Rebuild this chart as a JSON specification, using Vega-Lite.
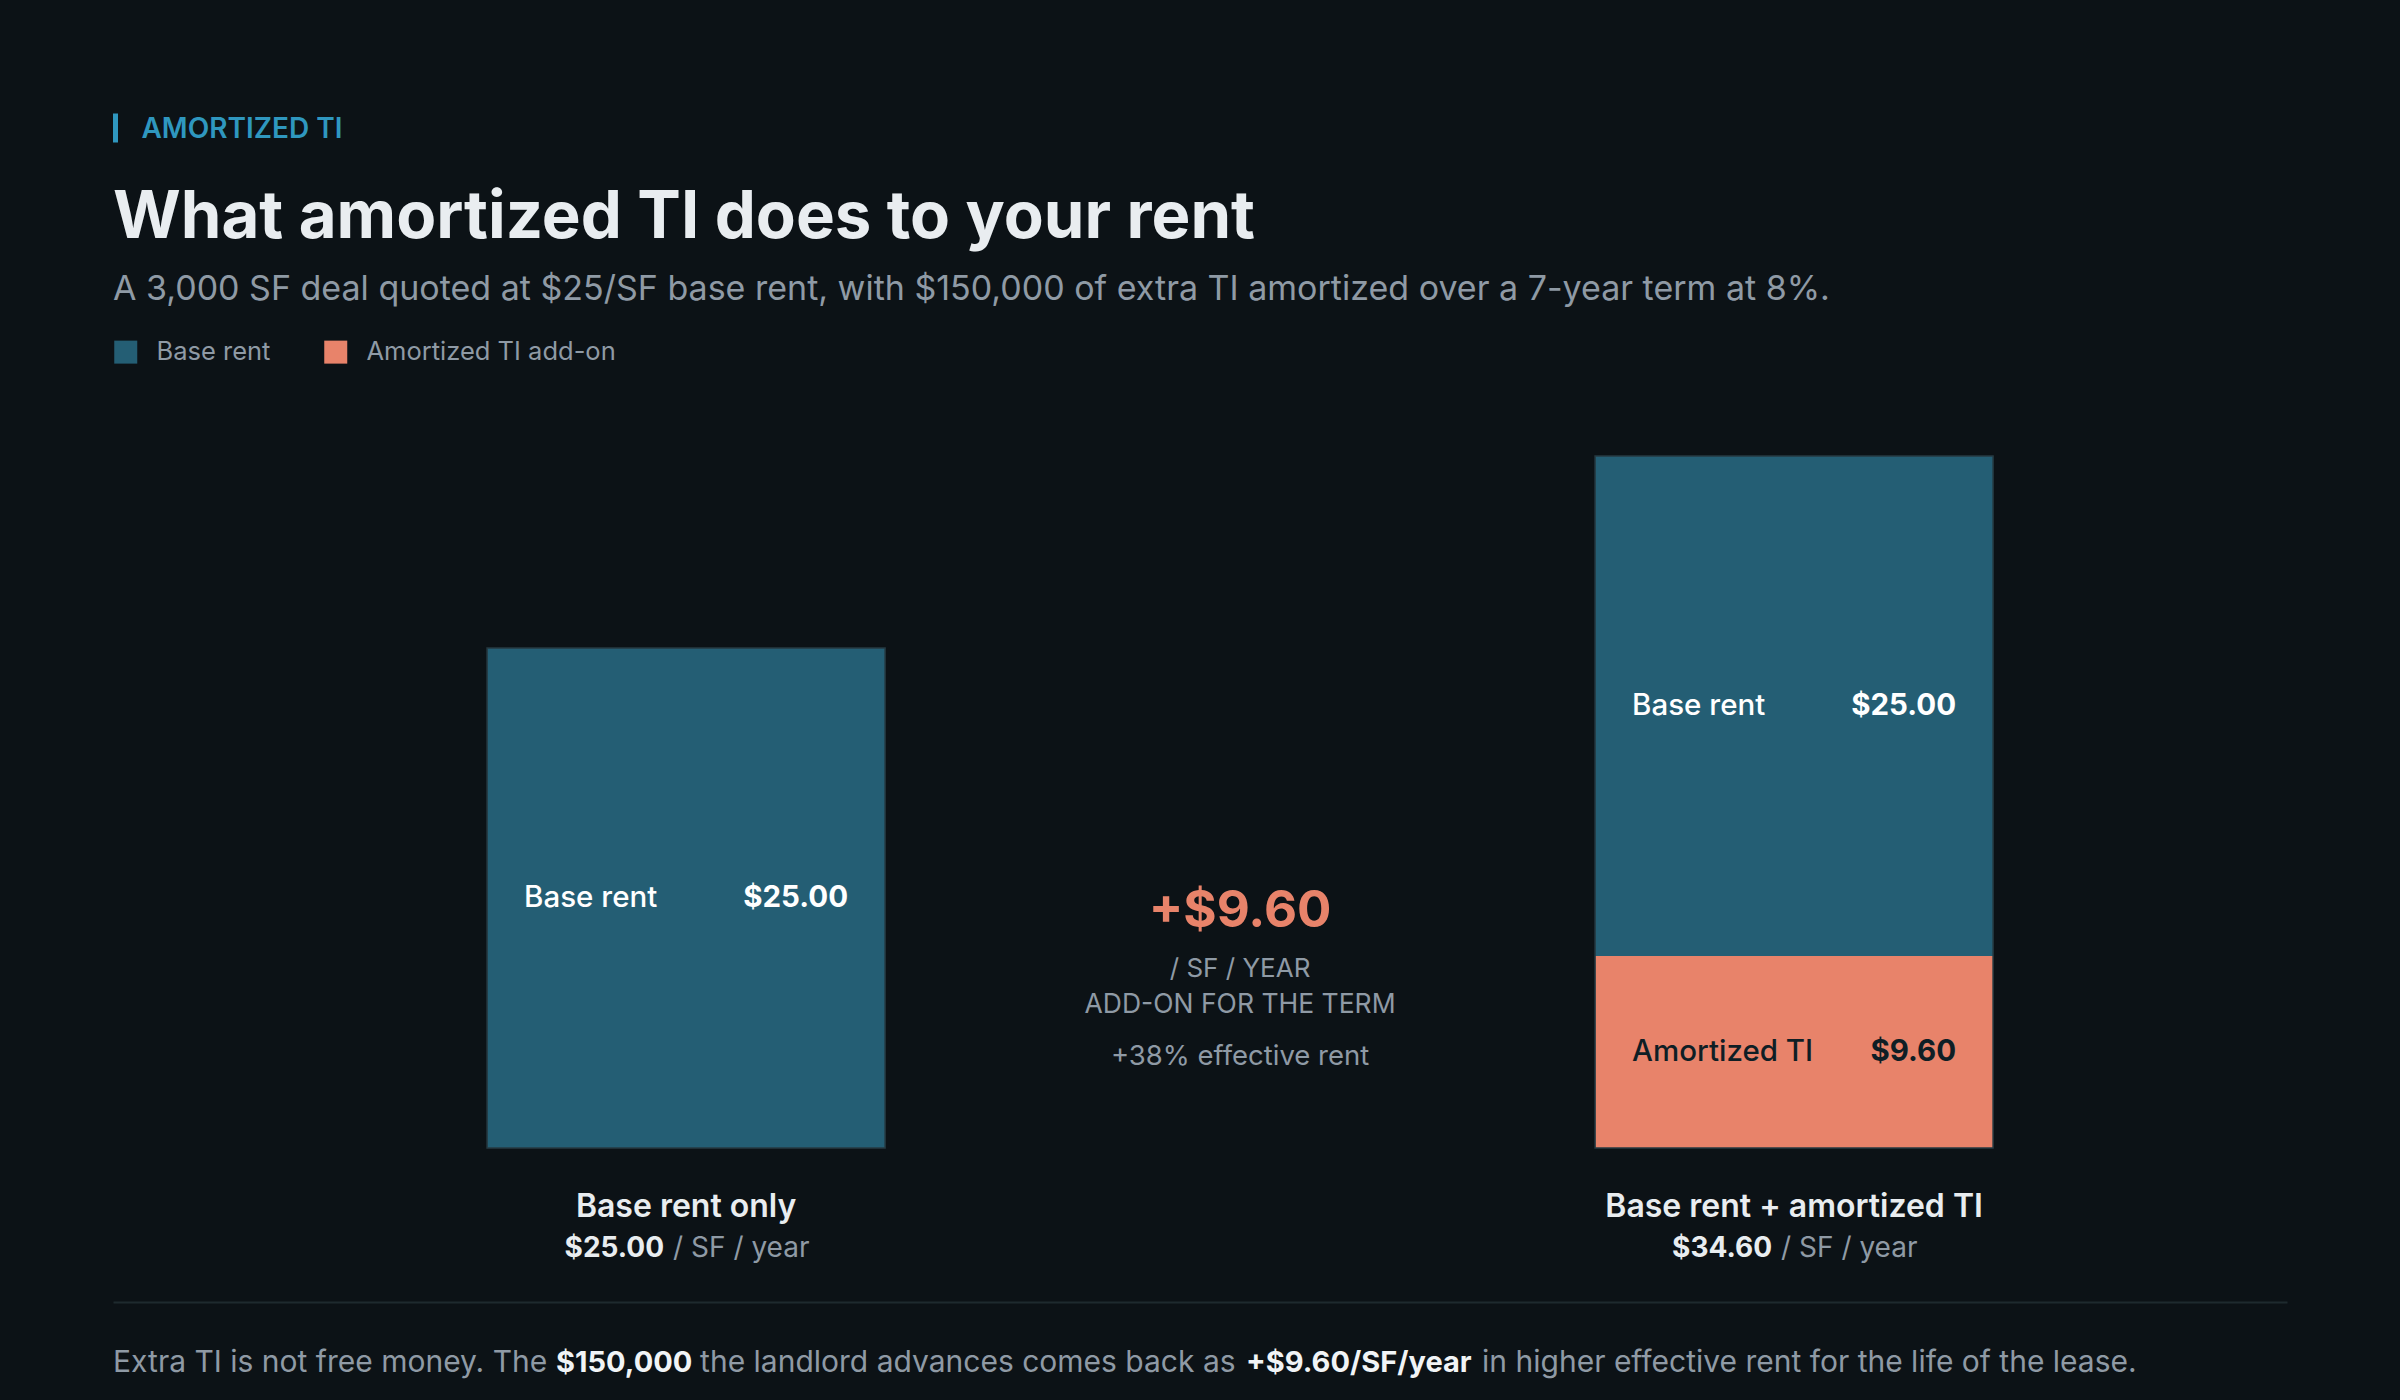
{
  "$schema": "https://vega.github.io/schema/vega-lite/v6.json",
  "width": 2174,
  "height": 874,
  "autosize": {"type": "none"},
  "padding": {"left": 113, "top": 428, "right": 113, "bottom": 98},
  "background": "#0c1216",
  "config": {
    "font": "Inter",
    "view": {"stroke": null},
    "text": {"font": "Inter"}
  },
  "title": {
    "text": "What amortized TI does to your rent",
    "subtitle": "A 3,000 SF deal quoted at $25/SF base rent, with $150,000 of extra TI amortized over a 7-year term at 8%.",
    "anchor": "start",
    "frame": "group",
    "orient": "top",
    "offset": -196,
    "font": "Inter",
    "fontSize": 65.3,
    "fontWeight": 700,
    "color": "#e9edf0",
    "subtitleFont": "Inter",
    "subtitleFontSize": 34,
    "subtitleFontWeight": 400,
    "subtitleColor": "#8f9aa5",
    "subtitlePadding": 21
  },
  "datasets": {
    "rent": [
      {"scenario": "Base rent only", "component": "Base rent", "short": "Base rent", "value": 25},
      {"scenario": "Base rent + amortized TI", "component": "Base rent", "short": "Base rent", "value": 25},
      {"scenario": "Base rent + amortized TI", "component": "Amortized TI add-on", "short": "Amortized TI", "value": 9.6}
    ],
    "delta": [
      {"scenario": "Difference", "addon": 9.6, "pct_increase": 0.384}
    ]
  },
  "layer": [
    {
      "data": {"name": "rent"},
      "transform": [
        {"stack": "value", "groupby": ["scenario"], "sort": [{"field": "component", "order": "ascending"}], "as": ["v0", "v1"]}
      ],
      "mark": {"type": "bar"},
      "encoding": {
        "x": {
          "field": "scenario",
          "type": "nominal",
          "scale": {
            "domain": ["Base rent only", "Difference", "Base rent + amortized TI"],
            "paddingInner": 0.2816,
            "paddingOuter": 0.6029,
            "align": 0.56
          },
          "axis": {
            "orient": "top",
            "values": ["Base rent only"],
            "labels": false,
            "domain": false,
            "grid": false,
            "ticks": true,
            "tickSize": 29,
            "tickWidth": 5,
            "tickColor": "#2f97bf",
            "tickOffset": -571.5,
            "offset": 286,
            "title": "AMORTIZED TI",
            "titleX": 28,
            "titleY": -5,
            "titleAngle": 0,
            "titleAlign": "left",
            "titleBaseline": "alphabetic",
            "titleFont": "Inter",
            "titleFontSize": 28,
            "titleFontWeight": 600,
            "titleColor": "#2f97bf"
          }
        },
        "y": {
          "field": "v1",
          "type": "quantitative",
          "scale": {"domain": [-7.7, 36], "nice": false, "zero": false},
          "axis": {
            "values": [-7.7],
            "labels": false,
            "ticks": false,
            "domain": false,
            "grid": true,
            "gridColor": "#1e2a2e",
            "gridWidth": 2,
            "title": null
          }
        },
        "y2": {"field": "v0"},
        "color": {
          "field": "component",
          "type": "nominal",
          "scale": {"domain": ["Base rent", "Amortized TI add-on"], "range": ["#245e74", "#e8836a"]},
          "legend": {
            "orient": "none",
            "legendX": 0,
            "legendY": -89,
            "direction": "horizontal",
            "title": null,
            "symbolType": "square",
            "symbolSize": 529,
            "symbolStrokeWidth": 0,
            "labelFont": "Inter",
            "labelFontSize": 25.5,
            "labelColor": "#8f9aa5",
            "labelOffset": 18,
            "labelLimit": 0,
            "columnPadding": 52
          }
        }
      }
    },
    {
      "data": {"name": "rent"},
      "transform": [
        {"aggregate": [{"op": "sum", "field": "value", "as": "total"}], "groupby": ["scenario"]}
      ],
      "mark": {"type": "bar", "fillOpacity": 0, "stroke": "#263a42", "strokeWidth": 1.5},
      "encoding": {
        "x": {"field": "scenario", "type": "nominal"},
        "y": {"field": "total", "type": "quantitative"},
        "y2": {"datum": 0}
      }
    },
    {
      "data": {"name": "rent"},
      "transform": [
        {"stack": "value", "groupby": ["scenario"], "sort": [{"field": "component", "order": "ascending"}], "as": ["v0", "v1"]},
        {"calculate": "(datum.v0 + datum.v1) / 2", "as": "mid"}
      ],
      "mark": {"type": "text", "align": "left", "baseline": "middle", "dx": 37, "fontSize": 29.5, "fontWeight": 500},
      "encoding": {
        "x": {"field": "scenario", "type": "nominal", "bandPosition": 0},
        "y": {"field": "mid", "type": "quantitative"},
        "text": {"field": "short"},
        "color": {"condition": {"test": "datum.component === 'Base rent'", "value": "#ffffff"}, "value": "#0f1e25"}
      }
    },
    {
      "data": {"name": "rent"},
      "transform": [
        {"stack": "value", "groupby": ["scenario"], "sort": [{"field": "component", "order": "ascending"}], "as": ["v0", "v1"]},
        {"calculate": "(datum.v0 + datum.v1) / 2", "as": "mid"}
      ],
      "mark": {"type": "text", "align": "right", "baseline": "middle", "dx": -37, "fontSize": 29.5, "fontWeight": 700},
      "encoding": {
        "x": {"field": "scenario", "type": "nominal", "bandPosition": 1},
        "y": {"field": "mid", "type": "quantitative"},
        "text": {"field": "value", "format": "$.2f"},
        "color": {"condition": {"test": "datum.component === 'Base rent'", "value": "#ffffff"}, "value": "#0f1e25"}
      }
    },
    {
      "data": {"name": "rent"},
      "transform": [
        {"aggregate": [{"op": "sum", "field": "value", "as": "total"}], "groupby": ["scenario"]}
      ],
      "mark": {"type": "text", "align": "center", "baseline": "alphabetic", "dy": 69, "fontSize": 32, "fontWeight": 600, "color": "#e9edf0"},
      "encoding": {
        "x": {"field": "scenario", "type": "nominal", "bandPosition": 0.5},
        "y": {"datum": 0, "type": "quantitative"},
        "text": {"field": "scenario"}
      }
    },
    {
      "data": {"name": "rent"},
      "transform": [
        {"aggregate": [{"op": "sum", "field": "value", "as": "total"}], "groupby": ["scenario"]}
      ],
      "mark": {"type": "text", "align": "right", "baseline": "alphabetic", "dx": -22, "dy": 109, "fontSize": 28, "fontWeight": 700, "color": "#e9edf0"},
      "encoding": {
        "x": {"field": "scenario", "type": "nominal", "bandPosition": 0.5},
        "y": {"datum": 0, "type": "quantitative"},
        "text": {"field": "total", "format": "$.2f"}
      }
    },
    {
      "data": {"name": "rent"},
      "transform": [
        {"aggregate": [{"op": "sum", "field": "value", "as": "total"}], "groupby": ["scenario"]}
      ],
      "mark": {"type": "text", "align": "left", "baseline": "alphabetic", "dx": -13, "dy": 109, "fontSize": 28, "fontWeight": 400, "color": "#8f9aa5"},
      "encoding": {
        "x": {"field": "scenario", "type": "nominal", "bandPosition": 0.5},
        "y": {"datum": 0, "type": "quantitative"},
        "text": {"value": "/ SF / year"}
      }
    },
    {
      "data": {"name": "delta"},
      "mark": {"type": "text", "align": "center", "baseline": "alphabetic", "dy": -29, "fontSize": 51, "fontWeight": 700, "color": "#e8836a"},
      "encoding": {
        "x": {"field": "scenario", "type": "nominal", "bandPosition": 0.5},
        "y": {"field": "addon", "type": "quantitative"},
        "text": {"field": "addon", "format": "+$.2f"}
      }
    },
    {
      "data": {"name": "delta"},
      "mark": {"type": "text", "align": "center", "baseline": "alphabetic", "dy": 21, "fontSize": 26, "fontWeight": 400, "color": "#8f9aa5"},
      "encoding": {
        "x": {"field": "scenario", "type": "nominal", "bandPosition": 0.5},
        "y": {"field": "addon", "type": "quantitative"},
        "text": {"value": "/ SF / YEAR"}
      }
    },
    {
      "data": {"name": "delta"},
      "mark": {"type": "text", "align": "center", "baseline": "alphabetic", "dy": 57, "fontSize": 26.5, "fontWeight": 400, "color": "#8f9aa5"},
      "encoding": {
        "x": {"field": "scenario", "type": "nominal", "bandPosition": 0.5},
        "y": {"field": "addon", "type": "quantitative"},
        "text": {"value": "ADD-ON FOR THE TERM"}
      }
    },
    {
      "data": {"name": "delta"},
      "transform": [
        {"calculate": "format(datum.pct_increase, '+.0%') + ' effective rent'", "as": "pct_label"}
      ],
      "mark": {"type": "text", "align": "center", "baseline": "alphabetic", "dy": 109, "fontSize": 27.5, "fontWeight": 400, "color": "#8f9aa5"},
      "encoding": {
        "x": {"field": "scenario", "type": "nominal", "bandPosition": 0.5},
        "y": {"field": "addon", "type": "quantitative"},
        "text": {"field": "pct_label"}
      }
    },
    {
      "data": {"values": [{"part": "lead"}]},
      "mark": {"type": "text", "align": "left", "baseline": "alphabetic", "dx": -374, "dy": 70, "fontSize": 30, "fontWeight": 400, "color": "#8f9aa5"},
      "encoding": {
        "x": {"datum": "Base rent only", "type": "nominal", "bandPosition": 0},
        "y": {"datum": -7.7, "type": "quantitative"},
        "text": {"value": "Extra TI is not free money. The"}
      }
    },
    {
      "data": {"values": [{"part": "ti"}]},
      "mark": {"type": "text", "align": "left", "baseline": "alphabetic", "dx": 69, "dy": 70, "fontSize": 29, "fontWeight": 700, "color": "#f1f4f6"},
      "encoding": {
        "x": {"datum": "Base rent only", "type": "nominal", "bandPosition": 0},
        "y": {"datum": -7.7, "type": "quantitative"},
        "text": {"value": "$150,000"}
      }
    },
    {
      "data": {"values": [{"part": "mid"}]},
      "mark": {"type": "text", "align": "left", "baseline": "alphabetic", "dx": 213, "dy": 70, "fontSize": 30, "fontWeight": 400, "color": "#8f9aa5"},
      "encoding": {
        "x": {"datum": "Base rent only", "type": "nominal", "bandPosition": 0},
        "y": {"datum": -7.7, "type": "quantitative"},
        "text": {"value": "the landlord advances comes back as"}
      }
    },
    {
      "data": {"values": [{"part": "rate"}]},
      "mark": {"type": "text", "align": "left", "baseline": "alphabetic", "dx": 759, "dy": 70, "fontSize": 29, "fontWeight": 700, "color": "#f1f4f6"},
      "encoding": {
        "x": {"datum": "Base rent only", "type": "nominal", "bandPosition": 0},
        "y": {"datum": -7.7, "type": "quantitative"},
        "text": {"value": "+$9.60/SF/year"}
      }
    },
    {
      "data": {"values": [{"part": "tail"}]},
      "mark": {"type": "text", "align": "left", "baseline": "alphabetic", "dx": 995, "dy": 70, "fontSize": 30, "fontWeight": 400, "color": "#8f9aa5"},
      "encoding": {
        "x": {"datum": "Base rent only", "type": "nominal", "bandPosition": 0},
        "y": {"datum": -7.7, "type": "quantitative"},
        "text": {"value": "in higher effective rent for the life of the lease."}
      }
    }
  ]
}
